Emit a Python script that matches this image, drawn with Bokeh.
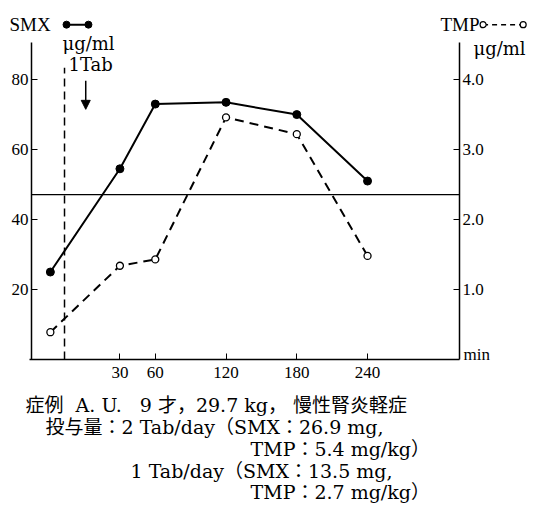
from bokeh.plotting import figure
from bokeh.models import (Range1d, LinearAxis, FixedTicker, Label, Arrow,
                          NormalHead, PrintfTickFormatter)
from bokeh.embed import file_html
from bokeh.resources import INLINE

# ---------------- data ----------------
time_min = [-29, 30, 60, 120, 180, 240]          # sampling times (min)
smx = [25, 54.5, 73, 73.5, 70, 51]                # SMX  µg/ml
tmp = [0.39, 1.34, 1.43, 3.46, 3.22, 1.48]        # TMP  µg/ml
x_ticks = [30, 60, 120, 180, 240]
smx_ticks = [20, 40, 60, 80]
tmp_ticks = [1, 2, 3, 4]
dose_time = -17          # dashed line: 1 Tab given
arrow_time = 1
ref_level = 47.1         # horizontal reference line (SMX scale)

# axis extents (data units)
x_lo, x_hi = -45, 318
smx_hi = 90.6
tmp_hi = 4.53

SERIF = "Liberation Serif"
WIDE = "DejaVu Serif"
MIXED = "DejaVu Serif, Noto Sans CJK JP"
FS = "17px"
NB = "\u00a0"

W, H = 533, 524
# frame fills the canvas; axes are drawn at fixed locations inside it
kx = 428 / (x_hi - x_lo)
ky = 317 / smx_hi
x_start = x_lo - 31 / kx
x_end = x_lo + (W - 31) / kx
y_start = -(H - 359) / ky
y_end = 359 / ky

p = figure(width=W, height=H, output_backend="svg", toolbar_location=None,
           x_range=Range1d(x_start, x_end), y_range=Range1d(y_start, y_end),
           min_border=0)
p.extra_y_ranges = {"tmp": Range1d(y_start * tmp_hi / smx_hi, y_end * tmp_hi / smx_hi)}
p.outline_line_color = None
p.grid.visible = False
p.background_fill_color = "white"
p.border_fill_color = "white"

def style_axis(ax, standoff):
    ax.axis_line_width = 1.5
    ax.axis_line_color = "black"
    ax.major_tick_in = 6
    ax.major_tick_out = 0
    ax.major_tick_line_width = 1
    ax.minor_tick_line_color = None
    ax.major_label_text_font = SERIF
    ax.major_label_text_font_size = FS
    ax.major_label_text_color = "black"
    ax.major_label_standoff = standoff

xa = p.xaxis[0]
xa.ticker = FixedTicker(ticks=x_ticks)
xa.fixed_location = 0
xa.bounds = (x_lo - 2, x_hi)
style_axis(xa, 7)

ya = p.yaxis[0]
ya.ticker = FixedTicker(ticks=smx_ticks)
ya.fixed_location = x_lo
ya.bounds = (0, smx_hi)
style_axis(ya, 3)

rax = LinearAxis(y_range_name="tmp", ticker=FixedTicker(ticks=tmp_ticks),
                 formatter=PrintfTickFormatter(format="%.1f"),
                 fixed_location=x_hi, bounds=(0, tmp_hi))
style_axis(rax, 3)
p.add_layout(rax, "right")

# reference line
p.segment(x0=[x_lo], y0=[ref_level], x1=[x_hi], y1=[ref_level], line_color="black",
          line_width=1.2)

# dose line + arrow
p.segment(x0=[dose_time], y0=[0], x1=[dose_time], y1=[83.4], line_color="black",
          line_width=1.5, line_dash="8 5")
p.add_layout(Arrow(end=NormalHead(size=9, fill_color="black", line_color="black"),
                   x_start=arrow_time, y_start=79.7, x_end=arrow_time, y_end=71.5,
                   line_width=1.5, line_color="black"))

# series
p.line(time_min, smx, line_color="black", line_width=2)
p.scatter(time_min, smx, size=8, fill_color="black", line_color="black")
p.line(time_min, tmp, y_range_name="tmp", line_color="black", line_width=2, line_dash="9 6")
p.scatter(time_min, tmp, y_range_name="tmp", size=7, fill_color="white",
          line_color="black", line_width=1.3)

# legend keys above the plot
key_y = 95.7
smx_key = [-15.3, 3.3]
tmp_key = [338, 372]
p.line(smx_key, [key_y, key_y], line_color="black", line_width=2)
p.scatter(smx_key, [key_y, key_y], size=7, fill_color="black", line_color="black")
p.line(tmp_key, [key_y, key_y], line_color="black", line_width=1.5, line_dash="5 4")
p.scatter(tmp_key, [key_y, key_y], size=6, fill_color="white", line_color="black",
          line_width=1.2)

def lab(x, y, text, size=FS, font=SERIF):
    # screen units: from the canvas' bottom-left corner
    p.add_layout(Label(x=x, y=y, x_units="screen", y_units="screen", text=text,
                       text_font=font, text_font_size=size, text_align="left",
                       text_baseline="middle", text_color="black"))

lab(9, 500, "SMX", "19px")
lab(62, 481.5, "μg/ml", "18px", WIDE)
lab(68, 460, "1Tab", "18px", WIDE)
lab(440, 500, "TMP", "19px")
lab(473, 476, "μg/ml", "18px", WIDE)
lab(463, 170, "min", "17px")

lab(25, 120, "症例" + NB * 2 + "A. U." + NB * 3 + "9 才，29.7 kg，" + NB + "慢性腎炎軽症", "19px", MIXED)
lab(45, 98, "投与量：2 Tab/day（SMX：26.9 mg,", "19px", MIXED)
lab(250, 76, "TMP：5.4 mg/kg）", "19px", MIXED)
lab(130, 54, "1 Tab/day（SMX：13.5 mg,", "19px", MIXED)
lab(250, 33, "TMP：2.7 mg/kg）", "19px", MIXED)

open("out.html", "w").write(file_html(p, INLINE))
